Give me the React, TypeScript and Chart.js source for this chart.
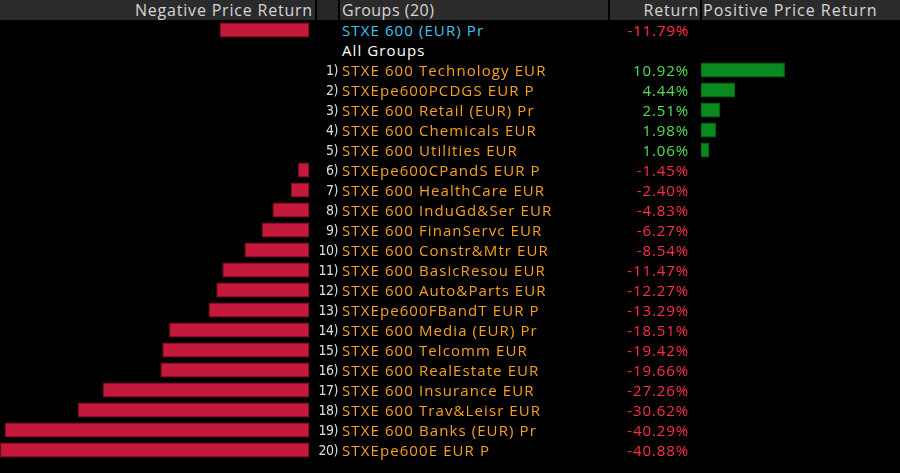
import React, { useEffect, useRef } from "react";
import { Chart, registerables } from "chart.js";

Chart.register(...registerables);

const indexName = "STXE 600 (EUR) Pr";
const indexReturn = -11.79;
const allGroupsLabel = "All Groups";
const groupNames = [
  "STXE 600 Technology EUR",
  "STXEpe600PCDGS EUR P",
  "STXE 600 Retail (EUR) Pr",
  "STXE 600 Chemicals EUR",
  "STXE 600 Utilities EUR",
  "STXEpe600CPandS EUR P",
  "STXE 600 HealthCare EUR",
  "STXE 600 InduGd&Ser EUR",
  "STXE 600 FinanServc EUR",
  "STXE 600 Constr&Mtr EUR",
  "STXE 600 BasicResou EUR",
  "STXE 600 Auto&Parts EUR",
  "STXEpe600FBandT EUR P",
  "STXE 600 Media (EUR) Pr",
  "STXE 600 Telcomm EUR",
  "STXE 600 RealEstate EUR",
  "STXE 600 Insurance EUR",
  "STXE 600 Trav&Leisr EUR",
  "STXE 600 Banks (EUR) Pr",
  "STXEpe600E EUR P",
];
const groupReturns = [
  10.92, 4.44, 2.51, 1.98, 1.06, -1.45, -2.4, -4.83, -6.27, -8.54, -11.47,
  -12.27, -13.29, -18.51, -19.42, -19.66, -27.26, -30.62, -40.29, -40.88,
];
const headerLabels = ["Negative Price Return", "Groups (20)", "Return", "Positive Price Return"];

const rowLabels = [indexName, allGroupsLabel, ...groupNames];
const rowReturns: (number | null)[] = [indexReturn, null, ...groupReturns];
const negValues = rowReturns.map((v) => (v !== null && v < 0 ? v : null));
const posValues = rowReturns.map((v) => (v !== null && v > 0 ? v : null));

const FONT = "'Open Sans', 'Noto Sans', sans-serif";
const ROW_H = 20;
const TOP = 20;

function BarChart(props: {
  values: (number | null)[];
  min: number;
  max: number;
  fill: string;
  border: string;
}) {
  const ref = useRef<HTMLCanvasElement | null>(null);
  useEffect(() => {
    if (!ref.current) return;
    const chart = new Chart(ref.current, {
      type: "bar",
      data: {
        labels: rowLabels,
        datasets: [
          {
            data: props.values as any,
            backgroundColor: props.fill,
            borderColor: props.border,
            borderWidth: 1,
            borderSkipped: false,
            barPercentage: 0.75,
            categoryPercentage: 1,
          },
        ],
      },
      options: {
        indexAxis: "y",
        animation: false,
        responsive: true,
        maintainAspectRatio: false,
        layout: { padding: 0 },
        plugins: { legend: { display: false }, tooltip: { enabled: false } },
        scales: {
          x: { display: false, min: props.min, max: props.max },
          y: { display: false },
        },
      },
    });
    return () => chart.destroy();
  }, []);
  return <canvas ref={ref} />;
}

export default function App() {
  const headerCell = (left: number, width: number, bg: string): React.CSSProperties => ({
    position: "absolute",
    left,
    top: 0,
    width,
    height: 20,
    background: bg,
    color: "#d6d6d6",
    fontSize: 16,
    letterSpacing: 0.8,
    lineHeight: "20px",
    whiteSpace: "nowrap",
    overflow: "hidden",
    boxSizing: "border-box",
  });
  return (
    <div
      style={{
        position: "fixed",
        left: 0,
        top: 0,
        width: 900,
        height: 473,
        background: "#000",
        overflow: "hidden",
        fontFamily: FONT,
      }}
    >
      <div style={{ ...headerCell(0, 315, "#2b2b2b"), textAlign: "right", paddingRight: 2 }}>
        {headerLabels[0]}
      </div>
      <div style={headerCell(317, 21, "#262626")} />
      <div style={{ ...headerCell(340, 268, "#2b2b2b"), paddingLeft: 2, letterSpacing: 0.5 }}>
        {headerLabels[1]}
      </div>
      <div style={{ ...headerCell(610, 90, "#2b2b2b"), textAlign: "right", paddingRight: 1 }}>
        {headerLabels[2]}
      </div>
      <div style={{ ...headerCell(702, 198, "#2b2b2b"), paddingLeft: 1, letterSpacing: 1 }}>
        {headerLabels[3]}
      </div>

      <div style={{ position: "absolute", left: 0, top: TOP, width: 309, height: ROW_H * rowLabels.length }}>
        <BarChart values={negValues} min={-40.9} max={0} fill="#c4193a" border="#8a1026" />
      </div>
      <div style={{ position: "absolute", left: 701, top: TOP, width: 199, height: ROW_H * rowLabels.length }}>
        <BarChart values={posValues} min={0} max={25.9} fill="#098a1f" border="#066a17" />
      </div>

      {rowLabels.map((label, i) => {
        const top = TOP + i * ROW_H;
        const ret = rowReturns[i];
        const nameColor = i === 0 ? "#3fc6ee" : i === 1 ? "#ffffff" : "#f7a120";
        return (
          <React.Fragment key={i}>
            {i >= 2 && (
              <div
                style={{
                  position: "absolute",
                  left: 298,
                  top,
                  width: 40,
                  height: ROW_H,
                  lineHeight: ROW_H + "px",
                  textAlign: "right",
                  color: "#dedede",
                  fontSize: 14,
                  fontFamily: "'Liberation Sans Narrow', 'DejaVu Sans Condensed', sans-serif",
                  letterSpacing: -0.5,
                }}
              >
                {i - 1 + ")"}
              </div>
            )}
            <div
              style={{
                position: "absolute",
                left: 342,
                top,
                height: ROW_H,
                lineHeight: ROW_H + "px",
                color: nameColor,
                fontSize: 15,
                letterSpacing: 1.1,
                whiteSpace: "nowrap",
              }}
            >
              {label}
            </div>
            {ret !== null && (
              <div
                style={{
                  position: "absolute",
                  left: 590,
                  top,
                  width: 99,
                  height: ROW_H,
                  lineHeight: ROW_H + "px",
                  textAlign: "right",
                  color: ret < 0 ? "#ff2e48" : "#4fe04f",
                  fontSize: 15,
                  letterSpacing: 0.9,
                  whiteSpace: "nowrap",
                }}
              >
                {ret.toFixed(2) + "%"}
              </div>
            )}
          </React.Fragment>
        );
      })}
    </div>
  );
}
